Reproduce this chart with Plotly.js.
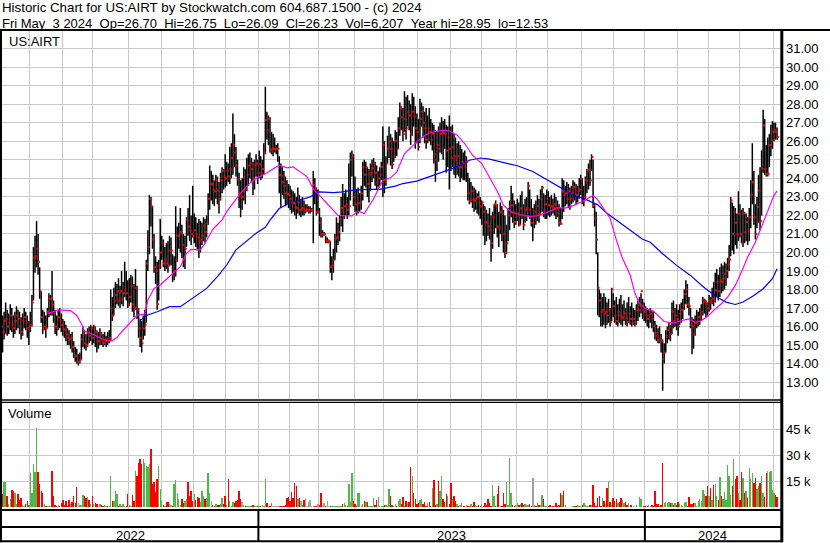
<!DOCTYPE html>
<html><head><meta charset="utf-8">
<script src="https://cdn.plot.ly/plotly-3.0.1.min.js"></script>
<style>html,body{margin:0;padding:0;background:#fff}#chart{width:830px;height:543px}</style>
</head><body><div id="chart"></div>
<script>
const titleLine1 = 'Historic Chart for US:AIRT by Stockwatch.com 604.687.1500 - (c) 2024';
const titleLine2 = 'Fri May  3 2024  Op=26.70  Hi=26.75  Lo=26.09  Cl=26.23  Vol=6,207  Year hi=28.95  lo=12.53';
const symbolLabel = 'US:AIRT';
const volumeLabel = 'Volume';
const lastDate = '2024-05-03';
const holidays = ['2022-05-30','2022-06-20','2022-07-04','2022-09-05','2022-11-24','2022-12-26','2023-01-02','2023-01-16','2023-02-20','2023-04-07','2023-05-29','2023-06-19','2023-07-04','2023-09-04','2023-11-23','2023-12-25','2024-01-01','2024-01-15','2024-02-19','2024-03-29'];
const yearLabels = ['2022','2023','2024'];
const priceTicks = [13,14,15,16,17,18,19,20,21,22,23,24,25,26,27,28,29,30,31];
const volTicks = [15,30,45];
const volTickText = ['15 k','30 k','45 k'];

const hi = [
16.9,16.6,16.8,17.3,16.9,16.7,17.2,17.0,16.6,16.8,
17.1,16.9,16.8,16.5,16.7,17.0,16.8,16.6,16.3,16.8,
17.7,20.3,20.9,21.7,21.0,19.2,17.9,16.9,16.8,16.6,
17.0,17.8,17.7,19.0,17.4,16.9,16.6,16.9,17.0,16.7,
16.4,16.3,16.1,15.9,15.8,15.6,15.7,15.2,14.9,14.8,
14.5,14.6,15.6,16.0,15.8,15.6,15.9,16.0,16.1,16.0,
16.1,16.0,15.8,15.7,15.9,15.7,15.6,15.7,15.5,15.7,
15.8,18.0,17.6,18.1,18.4,18.3,18.6,18.2,19.0,18.4,
19.5,19.0,18.5,18.6,18.8,18.7,18.3,19.1,18.2,17.0,
16.4,16.3,16.6,16.9,19.6,21.2,23.1,23.0,22.5,21.0,
19.8,19.5,19.6,21.8,20.9,20.7,20.3,20.5,20.6,20.9,
20.8,19.9,19.8,22.5,21.4,21.6,22.4,21.5,21.0,20.9,
21.9,22.4,23.1,22.0,23.6,22.1,21.9,21.6,21.8,21.7,
21.6,21.9,21.8,22.0,23.2,24.7,24.4,24.2,23.9,24.2,
24.1,23.8,24.3,24.6,24.5,25.3,24.9,24.8,25.7,25.9,
27.5,26.4,25.7,25.0,24.3,23.9,24.0,24.6,24.5,25.1,
25.3,25.4,25.1,24.9,25.0,25.3,25.0,25.5,25.2,25.0,
25.9,28.95,27.6,27.4,27.3,26.5,26.4,26.2,25.8,25.9,
25.2,24.8,24.6,24.4,24.1,23.9,23.7,23.6,23.4,23.3,
23.2,23.0,23.5,23.1,22.9,23.0,22.8,22.6,22.6,22.5,
22.5,22.4,24.4,24.0,23.5,23.4,22.4,21.9,21.2,21.1,
20.9,20.8,20.7,20.6,19.8,20.2,21.0,21.9,21.6,22.0,
23.0,23.7,23.2,23.4,23.0,24.8,25.4,25.5,25.3,24.1,
23.4,23.5,23.2,23.6,24.9,25.0,24.9,24.6,24.5,24.8,
25.0,25.1,24.9,24.7,24.4,24.6,24.9,26.8,26.0,25.2,
26.3,26.8,26.4,26.2,26.0,26.6,26.5,27.3,28.1,27.9,
27.8,28.7,28.4,28.5,28.2,28.0,28.6,28.4,27.9,27.5,
27.2,28.3,28.1,27.9,27.6,27.8,27.4,27.8,27.2,27.0,
26.9,26.6,26.5,26.8,27.0,27.3,27.1,27.2,26.9,26.8,
27.4,26.8,26.9,26.4,26.2,25.9,26.0,25.8,25.6,25.4,
25.5,25.2,24.3,24.0,23.8,23.6,23.5,23.4,23.2,23.3,
23.0,22.8,22.6,22.5,22.3,22.1,22.4,22.0,22.2,22.6,
22.8,22.6,22.2,22.7,22.5,22.3,22.0,21.5,22.4,22.8,
23.6,23.2,22.8,22.6,22.9,22.7,23.1,23.3,22.6,22.9,
23.0,23.8,23.4,22.9,22.4,22.6,22.8,23.1,22.9,23.4,
23.6,23.2,23.1,23.4,23.3,23.0,23.1,22.9,23.2,23.0,
22.8,22.6,22.4,24.0,23.9,23.6,23.8,23.7,23.5,23.6,
23.9,23.8,23.7,23.6,24.0,24.2,24.0,23.6,24.1,24.5,
24.8,25.0,25.3,25.0,22.6,22.2,20.0,18.0,17.8,17.6,
17.8,17.6,17.3,17.5,17.0,18.1,17.8,17.4,17.6,17.2,
17.5,17.7,17.2,17.4,17.0,17.3,17.6,17.1,17.3,17.0,
16.9,17.2,17.4,17.6,17.8,17.5,17.3,17.1,17.0,16.9,
17.0,16.9,16.8,16.3,16.1,15.9,16.0,15.6,15.3,15.1,
15.8,16.0,16.2,16.1,17.3,17.4,17.0,17.2,16.9,17.2,
17.3,17.5,18.0,18.5,18.3,17.6,17.0,16.5,16.4,16.6,
16.9,16.8,17.0,17.2,17.6,17.5,17.4,17.3,17.7,17.6,
18.1,18.4,18.9,19.1,18.8,19.2,19.4,19.3,19.5,19.4,
19.7,20.4,23.0,22.7,22.5,22.4,22.1,23.3,22.6,22.3,
22.4,22.2,22.1,21.9,22.4,23.9,25.9,24.4,22.6,23.0,
24.2,24.6,25.5,27.7,27.2,25.8,26.2,26.4,26.9,27.1,
27.0,27.0,26.75];

const lo = [
14.4,14.6,15.3,15.6,15.5,15.6,15.8,15.7,15.4,15.6,
15.8,15.9,15.6,15.3,15.5,15.9,15.8,15.4,15.0,15.7,
16.0,17.4,18.9,19.2,18.8,17.5,16.2,15.6,15.8,15.4,
15.9,16.5,16.6,16.6,16.2,15.6,15.5,15.8,15.9,15.7,
15.5,15.4,15.2,15.0,15.0,14.8,14.6,14.3,14.1,14.0,
13.9,14.0,14.2,14.9,14.8,14.7,14.9,15.1,15.2,15.0,
15.1,14.9,14.6,14.8,15.0,15.0,14.9,15.0,14.9,15.0,
15.1,15.2,16.3,16.6,17.0,17.2,17.1,17.0,17.2,17.1,
17.6,17.4,17.0,17.1,17.3,16.8,16.5,16.9,16.4,15.4,
14.9,14.6,15.3,15.5,16.2,19.0,19.9,21.4,20.2,18.9,
18.3,16.9,17.4,19.1,19.6,19.2,19.0,19.1,18.9,19.3,
19.3,18.4,18.5,18.7,19.5,20.2,20.0,19.7,19.2,19.1,
20.3,20.9,20.6,20.4,20.8,20.5,20.3,20.1,19.7,20.0,
20.4,20.6,20.5,20.8,21.5,22.3,22.8,22.6,22.5,22.9,
22.6,22.1,22.8,23.2,23.4,23.5,23.6,23.8,23.7,24.0,
24.2,24.6,24.1,23.6,22.4,21.9,22.3,22.8,22.6,23.3,
23.6,24.0,23.8,23.1,23.4,24.1,23.7,24.0,23.9,24.0,
24.2,25.3,26.1,25.8,25.4,25.3,25.2,25.4,25.3,24.9,
23.2,22.4,23.1,22.9,22.5,22.6,22.4,22.3,22.1,22.2,
22.0,21.8,22.1,22.0,21.9,22.0,22.0,22.1,22.2,22.1,
22.1,22.2,20.5,22.6,22.0,22.1,20.9,20.8,20.8,20.9,
20.5,20.5,20.5,18.9,18.5,18.9,19.6,20.0,20.4,20.6,
21.4,21.1,21.8,22.0,21.8,22.0,22.8,24.1,22.5,22.2,
22.0,22.1,22.2,22.3,22.8,23.6,23.5,23.0,22.7,23.3,
23.8,24.0,23.6,23.4,23.5,23.6,23.9,23.0,23.2,23.6,
24.8,25.1,24.7,24.5,24.9,25.1,25.2,25.6,26.3,26.6,
26.0,26.5,26.1,26.8,26.6,25.8,26.3,26.8,25.6,25.9,
25.5,25.9,26.8,26.2,25.9,25.6,25.9,26.0,25.8,25.5,
24.8,23.8,24.4,24.9,25.4,25.3,25.0,25.6,24.3,24.6,
23.4,24.4,24.6,24.2,24.0,24.2,24.1,23.8,24.0,23.9,
23.9,23.8,22.8,22.6,22.7,22.4,22.2,22.3,22.1,22.0,
21.8,21.5,20.9,20.4,20.6,20.9,20.7,19.5,20.2,21.0,
21.3,20.8,20.3,21.0,20.6,20.0,19.7,19.9,20.6,21.2,
21.9,21.6,21.3,21.5,21.7,21.4,21.5,21.8,21.2,21.6,
21.7,22.0,21.8,21.4,20.6,21.3,21.5,21.7,21.6,22.0,
22.2,21.9,21.8,21.8,22.0,21.9,22.0,22.1,22.0,21.8,
21.9,21.4,21.5,21.8,22.2,22.5,22.6,22.4,22.3,22.6,
22.7,22.8,22.6,22.7,22.9,23.1,22.6,22.5,22.8,23.2,
23.4,23.6,24.4,22.4,21.4,19.9,16.6,16.5,16.0,16.0,
16.1,15.9,16.1,16.2,16.0,16.3,16.5,16.2,16.1,16.0,
16.2,16.1,16.0,16.3,16.1,16.0,16.2,16.1,16.0,16.1,
16.0,16.1,16.3,16.5,16.7,16.4,16.3,16.2,16.0,15.9,
16.2,15.9,15.7,15.3,15.2,15.1,15.1,14.6,12.53,14.0,
14.6,15.1,15.3,15.2,15.6,15.9,16.0,15.8,15.5,16.1,
16.2,16.4,16.9,17.2,17.0,16.6,15.9,14.5,14.8,15.5,
15.9,16.0,16.1,16.3,16.6,16.7,16.5,16.6,16.8,16.9,
17.2,17.1,17.3,17.6,17.4,17.6,17.8,17.9,18.0,18.2,
18.6,19.0,19.8,20.1,19.9,20.4,20.2,20.6,20.8,20.5,
20.3,20.5,20.6,20.4,20.6,21.3,22.6,21.5,20.7,21.3,
21.6,21.2,22.0,24.3,24.2,24.1,24.1,24.6,25.2,25.6,
26.0,26.1,26.09];

const cl = [
16.0,15.7,16.3,16.4,16.0,16.2,16.6,16.1,15.9,16.3,
16.6,16.4,16.0,15.7,16.3,16.5,16.2,15.9,16.0,16.1,
17.3,19.7,19.8,20.2,19.5,17.9,16.5,15.9,16.0,15.9,
16.8,17.5,17.5,17.2,16.7,16.0,15.9,16.5,16.3,16.1,
15.9,15.8,15.6,15.4,15.3,15.4,14.9,14.5,14.4,14.1,
14.1,14.2,15.3,15.6,15.1,15.0,15.7,15.5,15.9,15.4,
15.9,15.7,15.2,15.2,15.6,15.3,15.1,15.2,15.3,15.2,
15.4,17.0,16.6,17.4,17.7,17.9,17.4,17.9,17.5,17.8,
18.0,17.8,17.2,17.6,18.2,17.2,17.0,18.1,16.9,15.9,
15.4,15.1,15.9,16.1,19.4,20.3,22.9,22.5,20.7,19.2,
19.0,17.2,19.3,20.0,20.5,19.4,19.6,19.4,19.3,20.1,
20.1,18.8,19.0,19.6,20.9,21.0,21.1,20.4,19.6,20.2,
21.75,21.4,21.2,21.0,20.9,21.2,21.0,20.8,20.6,20.7,
20.9,21.45,21.1,21.6,22.9,23.7,23.7,23.4,23.3,23.9,
23.35,22.9,23.9,24.4,24.1,24.0,24.4,24.1,24.5,25.1,
25.8,25.4,24.7,23.95,23.2,23.0,23.0,24.05,23.4,24.2,
24.7,24.8,24.5,24.0,24.7,24.8,24.3,24.75,24.3,24.5,
25.4,27.15,26.6,27.2,25.5,25.6,25.6,25.6,25.6,25.6,
24.2,24.15,23.8,23.6,23.2,23.15,23.1,22.9,22.7,22.65,
22.45,22.4,22.7,22.3,22.3,22.4,22.3,22.3,22.3,22.3,
22.3,22.3,23.65,23.4,22.2,22.2,21.6,21.0,21.0,21.0,
20.6,20.6,20.6,19.2,19.3,19.6,20.75,20.8,21.1,21.8,
22.4,22.2,22.5,22.6,22.3,22.5,25.0,25.2,23.0,22.6,
22.2,22.65,22.7,23.2,24.6,24.2,24.6,23.7,24.2,24.3,
24.55,24.8,24.3,23.8,24.0,24.2,24.6,25.8,23.9,24.8,
25.6,26.0,25.6,24.75,25.2,26.0,25.6,26.7,27.8,27.3,
26.4,27.2,26.7,27.6,27.4,26.4,27.6,27.35,26.7,26.5,
25.7,27.2,27.6,27.0,26.7,26.1,26.7,26.5,26.1,26.4,
25.3,25.0,25.8,25.6,26.4,26.5,26.45,26.4,25.5,26.2,
25.6,25.1,25.7,25.2,25.0,25.2,24.6,24.6,24.9,24.8,
24.6,24.9,23.2,22.8,23.3,22.85,22.8,22.9,23.0,22.7,
22.5,22.7,22.2,21.65,21.6,21.4,21.2,20.5,21.9,22.6,
22.5,21.4,21.3,22.2,22.1,21.0,20.0,20.5,22.0,22.5,
22.55,22.2,21.65,21.9,22.1,21.5,22.4,22.0,21.5,22.3,
22.4,23.6,22.3,21.6,21.6,22.2,22.0,22.5,22.1,22.9,
23.5,22.3,22.6,22.9,22.55,22.5,22.5,22.4,22.6,22.4,
22.1,21.6,21.55,23.3,23.1,23.2,22.9,23.3,22.9,23.2,
23.55,23.5,23.1,23.3,23.4,23.95,22.75,23.0,23.9,24.45,
24.45,23.9,25.15,22.55,21.85,20.7,18.1,17.4,16.8,16.9,
16.7,16.8,16.6,16.9,16.25,18.0,17.1,16.6,16.3,16.8,
16.6,16.45,16.5,16.7,16.45,16.25,16.7,16.4,16.2,16.4,
16.25,16.9,16.9,17.15,17.9,16.9,16.8,16.6,16.4,16.6,
16.7,16.4,16.0,15.65,15.5,15.25,15.35,15.2,14.25,14.6,
15.5,15.8,15.95,15.6,16.8,16.3,16.6,16.4,16.0,16.7,
16.9,17.15,17.75,18.0,17.2,17.1,16.1,16.0,15.6,16.2,
16.25,16.5,16.6,16.8,17.3,17.4,17.2,17.0,17.4,17.3,
17.5,17.4,17.95,18.4,17.9,18.5,18.4,18.6,18.85,19.0,
19.35,19.6,22.8,21.0,22.2,21.6,21.0,22.1,21.0,20.5,
22.1,21.1,21.65,21.2,21.9,23.1,23.8,21.9,21.0,22.45,
23.35,21.7,24.5,26.85,24.5,24.25,24.25,25.8,26.05,26.5,
26.6,26.5,26.23];

const volK = [
3.6,7.5,14.6,14.4,6.5,1.7,4.5,9.8,9.6,8.4,
2.0,7.5,4.0,5.6,1.5,1.0,2.0,3.6,1.5,19.6,
8.4,24.8,20.5,45.5,20.4,13.2,9.4,8.4,1.7,0.8,
0.6,0.5,1.0,20.9,6.5,1.5,0.8,1.5,0.6,2.7,
4.2,1.5,3.6,1.0,4.0,2.0,3.0,6.5,2.5,11.9,
2.7,1.5,1.2,7.1,6.5,5.6,6.0,4.2,2.0,6.5,
2.0,2.7,1.7,0.8,2.0,1.5,0.6,1.2,0.8,1.0,
1.0,18.0,3.6,3.6,9.4,7.5,1.0,1.7,1.0,1.7,
0.6,1.0,7.5,1.5,0.8,6.9,3.6,20.9,18.0,25.7,
27.6,24.8,27.6,25.5,24.0,23.0,24.8,33.8,13.2,14.5,
9.0,16.4,23.8,10.3,3.6,1.5,1.0,3.3,3.3,2.0,
1.5,1.0,13.2,15.5,8.0,5.0,1.5,4.5,2.5,3.6,
4.5,14.4,6.5,9.4,3.5,7.5,4.0,6.0,5.6,3.0,
9.2,6.5,4.5,5.6,19.6,8.4,3.6,1.5,1.0,2.0,
1.5,1.5,2.0,5.6,1.7,6.5,1.5,16.3,3.6,1.0,
3.3,2.5,3.6,4.0,9.4,4.5,3.0,1.5,1.0,1.0,
1.0,0.8,1.0,1.5,0.8,0.6,1.0,0.6,0.8,1.5,
1.0,16.5,2.5,1.0,0.5,2.7,0.8,1.0,0.6,0.5,
0.8,0.5,0.8,0.6,1.5,5.6,6.0,3.6,8.8,5.6,
14.0,12.5,4.5,5.6,3.6,1.5,4.0,5.0,1.0,3.0,
4.0,1.0,0.6,1.0,0.8,2.0,1.5,8.4,1.5,2.5,
0.5,3.6,1.0,0.6,0.5,0.6,0.5,0.8,0.5,1.0,
1.0,2.0,2.5,1.5,0.8,13.2,3.0,19.6,3.6,2.0,
0.6,8.4,8.0,1.0,2.0,3.6,3.3,3.0,1.0,1.0,
1.0,5.2,1.5,4.0,5.8,1.0,0.8,1.0,1.5,1.5,
0.8,10.5,6.5,1.5,1.0,2.0,1.0,3.6,4.5,2.0,
6.0,1.0,3.6,2.5,3.3,23.4,18.0,8.4,4.6,1.7,
2.5,4.0,4.6,2.0,3.0,1.0,2.7,3.0,1.0,11.3,
15.7,1.5,2.0,15.2,9.4,18.0,4.6,3.0,7.9,6.5,
2.0,13.8,4.6,6.5,3.5,2.0,0.8,1.5,2.5,1.0,
0.5,1.5,0.5,1.0,2.0,0.5,3.0,1.5,0.5,1.5,
0.5,2.0,0.5,2.5,1.5,5.0,2.7,0.8,12.7,6.5,
0.8,7.5,12.3,0.8,1.0,8.4,2.0,14.6,1.5,28.6,
8.4,1.5,0.8,1.5,2.5,1.5,2.0,2.3,1.5,2.0,
1.5,1.5,2.0,0.8,16.9,1.5,0.8,2.2,1.5,1.5,
7.1,4.6,0.8,0.8,1.0,1.5,0.8,0.8,0.5,2.3,
1.0,1.5,8.0,7.3,9.2,1.5,0.3,0.3,0.3,0.3,
0.5,0.8,1.0,1.5,1.0,0.8,1.5,2.3,1.5,1.0,
1.0,1.2,1.5,12.7,2.7,1.0,5.6,6.5,1.0,5.6,
3.5,2.0,11.3,15.0,3.0,1.5,5.6,3.6,4.6,2.5,
3.0,5.6,4.0,2.5,3.0,1.2,2.5,1.5,1.5,1.0,
0.3,1.5,0.3,5.9,4.6,0.3,0.8,0.8,0.8,1.2,
0.8,1.5,0.8,9.2,1.7,2.0,1.0,1.5,25.3,2.7,
3.0,2.7,3.0,2.7,2.5,1.5,2.7,1.5,3.0,1.7,
1.5,0.8,2.7,3.0,0.8,6.1,1.7,1.7,2.5,2.7,
0.8,3.6,4.6,3.6,9.9,7.5,6.5,12.2,6.5,11.3,
4.0,12.7,13.2,6.5,4.0,17.6,6.5,5.0,8.6,4.2,
24.2,18.0,6.9,12.3,28.0,16.1,18.0,8.4,4.2,20.4,
17.1,8.4,9.4,5.6,22.8,16.1,19.6,14.2,17.1,10.4,
12.3,13.8,18.0,8.4,6.0,20.0,20.9,20.4,20.9,10.0,
8.0,6.9,6.2];

// moving averages (bar number, value)
const maShortIdx = [30,37,45,49,52,54,59,64,68,72,75,79,82,88,93,95,99,103,107,111,116,120,123,129,132,137,143,146,150,155,161,165,172,180,185,189,193,198,202,206,212,218,223,227,231,235,241,247,252,256,261,267,272,277,286,290,295,300,305,311,316,321,325,330,336,342,347,352,357,360,365,370,376,380,383,386,391,394,398,402,407,410,413,417,422,424,429,435,440,445,449,453,457,462,466,470,475,479,483,488,492,496,500,502];
const maShortVal = [16.68,16.9,16.86,16.6,16.15,15.75,15.6,15.4,15.24,15.24,15.4,15.8,16.05,16.6,16.68,17.43,18.06,18.24,18.55,18.87,19.23,19.95,20.17,20.14,20.5,21.25,21.76,22.2,22.66,23.2,23.74,24.0,24.3,24.71,24.57,24.62,24.39,24.08,23.45,23.09,22.55,22.0,21.97,21.97,22.23,22.1,22.9,23.9,24.03,24.35,25.34,25.8,26.19,26.46,26.6,26.57,26.33,25.88,25.25,24.8,24.08,23.3,22.55,22.19,22.03,21.94,21.99,22.12,22.3,22.42,22.39,22.53,22.75,22.93,23.07,22.84,22.21,21.85,20.68,19.68,18.78,17.79,17.25,16.95,16.84,16.68,16.27,16.18,16.32,16.41,16.23,16.32,16.54,16.95,17.23,17.59,18.22,18.94,19.75,20.56,21.37,22.27,23.08,23.32];
const maLongIdx = [90,94,101,109,116,124,133,140,146,152,159,165,171,174,180,185,193,200,206,215,221,228,237,245,255,260,269,277,286,295,303,310,316,325,334,344,353,362,370,379,386,392,398,405,409,415,420,428,437,446,454,463,469,475,480,487,493,499,502];
const maLongVal = [16.32,16.6,16.8,17.07,17.07,17.52,18.06,18.69,19.32,20.14,20.62,21.04,21.36,21.74,22.37,22.6,22.82,23.0,23.27,23.23,23.27,23.36,23.41,23.41,23.58,23.72,23.85,24.08,24.35,24.62,24.98,25.1,25.04,24.86,24.68,24.37,23.92,23.47,23.11,22.84,22.57,22.12,21.76,21.34,21.09,20.71,20.55,19.93,19.3,18.76,18.16,17.59,17.32,17.19,17.32,17.68,18.04,18.58,19.12];

const N = cl.length;
if (hi.length !== N || lo.length !== N || volK.length !== N) {
  throw new Error('length mismatch hi=' + hi.length + ' lo=' + lo.length + ' cl=' + N + ' vol=' + volK.length);
}
if (maShortIdx.length !== maShortVal.length || maLongIdx.length !== maLongVal.length) {
  throw new Error('ma mismatch ' + maShortIdx.length + '/' + maShortVal.length + ' ' + maLongIdx.length + '/' + maLongVal.length);
}

// trading calendar (weekdays minus holidays), ending on lastDate
const hol = new Set(holidays);
const dates = [];
const dd = new Date(lastDate + 'T12:00:00Z');
while (dates.length < N) {
  const wd = dd.getUTCDay();
  const s = dd.toISOString().slice(0, 10);
  if (wd !== 0 && wd !== 6 && !hol.has(s)) dates.unshift(s);
  dd.setUTCDate(dd.getUTCDate() - 1);
}
const idx = dates.map((_, i) => i);
const monthTicks = [], yearBreaks = [];
for (let i = 1; i < N; i++) {
  if (dates[i].slice(0, 7) !== dates[i - 1].slice(0, 7)) monthTicks.push(i - 0.5);
  if (dates[i].slice(0, 4) !== dates[i - 1].slice(0, 4)) yearBreaks.push(i - 0.5);
}

// geometry
const W = 830, H = 543, ML = 2, MR = 49, MT = 31, MB = 2;
const PW = W - ML - MR, PH = H - MT - MB;
const px = v => (v - ML) / PW;
const py = v => (H - MB - v) / PH;
const xr = [0.647, 504.55];

const FONT = 'Liberation Sans, Arial, sans-serif';

// traces
const hlX = [], hlY = [];
for (let i = 0; i < N; i++) { hlX.push(i, i, null); hlY.push(lo[i], hi[i], null); }
const closeTickX = idx.map(i => i + 0.55);
const volColor = cl.map((c, i) => {
  if (i === 0) return '#50b848';
  if (c > cl[i - 1]) return '#50b848';
  if (c < cl[i - 1]) return '#ff0000';
  return '#a0a0a0';
});

const traces = [
  {type: 'scatter', mode: 'lines', x: hlX, y: hlY, xaxis: 'x', yaxis: 'y',
   line: {color: '#000000', width: 1.5}, hoverinfo: 'skip', connectgaps: false},
  {type: 'scatter', mode: 'lines', x: maLongIdx, y: maLongVal, xaxis: 'x', yaxis: 'y',
   line: {color: '#0000ff', width: 1.2}, hoverinfo: 'skip'},
  {type: 'scatter', mode: 'lines', x: maShortIdx, y: maShortVal, xaxis: 'x', yaxis: 'y',
   line: {color: '#ff00ff', width: 1.2}, hoverinfo: 'skip'},
  {type: 'scatter', mode: 'markers', x: closeTickX, y: cl, xaxis: 'x', yaxis: 'y',
   marker: {symbol: 'square', size: 2, color: '#ff0000', line: {width: 0}}, hoverinfo: 'skip'},
  {type: 'bar', x: idx, y: volK, xaxis: 'x2', yaxis: 'y2', width: 0.9,
   marker: {color: volColor, line: {width: 0}}, hoverinfo: 'skip'}
];

// year label positions (midpoints of visible year segments)
const edges = [xr[0], ...yearBreaks, xr[1]];
const yearAnn = yearLabels.map((t, k) => ({
  text: t, xref: 'x', yref: 'paper', x: (edges[k] + edges[k + 1]) / 2, y: py(535.3),
  xanchor: 'center', yanchor: 'middle', showarrow: false, font: {family: FONT, size: 13, color: '#000'}
}));

const nb = s => s.replace(/ /g, '\u00a0');
const annotations = [
  {text: nb(titleLine1), xref: 'paper', yref: 'paper', x: px(0), y: py(8), xanchor: 'left', yanchor: 'middle',
   showarrow: false, font: {family: FONT, size: 13.3, color: '#000'}},
  {text: nb(titleLine2), xref: 'paper', yref: 'paper', x: px(0), y: py(23.5), xanchor: 'left', yanchor: 'middle',
   showarrow: false, font: {family: FONT, size: 13, color: '#000'}},
  {text: symbolLabel, xref: 'paper', yref: 'paper', x: px(7), y: py(41.8), xanchor: 'left', yanchor: 'middle',
   showarrow: false, font: {family: FONT, size: 13, color: '#000'}},
  {text: volumeLabel, xref: 'paper', yref: 'paper', x: px(6), y: py(413), xanchor: 'left', yanchor: 'middle',
   showarrow: false, font: {family: FONT, size: 13, color: '#000'}},
  ...yearAnn
];

const hline = (y, w, x0 = 0, x1 = 782) => ({type: 'line', xref: 'paper', yref: 'paper',
  x0: px(x0), x1: px(x1), y0: py(y), y1: py(y), line: {color: '#000', width: w}});
const shapes = [
  hline(30, 2, 0, 830),
  hline(400, 1.3), hline(402.4, 1.3),
  hline(510, 2), hline(527, 2), hline(541.3, 2),
  {type: 'line', xref: 'paper', yref: 'paper', x0: px(1), x1: px(1), y0: py(30), y1: py(542.3), line: {color: '#000', width: 2}},
  {type: 'line', xref: 'paper', yref: 'paper', x0: px(781.8), x1: px(781.8), y0: py(30), y1: py(542.3), line: {color: '#000', width: 3}},
  ...yearBreaks.map(b => ({type: 'line', xref: 'x', yref: 'paper', x0: b, x1: b, y0: py(510), y1: py(541.3),
    line: {color: '#000', width: 2}}))
];

const gridC = '#c8c8c8';
const layout = {
  width: W, height: H,
  margin: {l: ML, r: MR, t: MT, b: MB, pad: 0},
  paper_bgcolor: '#ffffff', plot_bgcolor: '#ffffff',
  showlegend: false, bargap: 0,
  font: {family: FONT, size: 13, color: '#000'},
  xaxis: {domain: [0, 1], range: xr, anchor: 'y', tickvals: monthTicks, showticklabels: false, ticks: '',
          showgrid: true, gridcolor: gridC, gridwidth: 1, zeroline: false, showline: false, fixedrange: true},
  xaxis2: {domain: [0, 1], range: xr, anchor: 'y2', matches: 'x', tickvals: monthTicks, showticklabels: false, ticks: '',
           showgrid: true, gridcolor: gridC, gridwidth: 1, zeroline: false, showline: false, fixedrange: true},
  yaxis: {domain: [py(399.3), 1], range: [12.07, 31.957], anchor: 'x', side: 'right',
          tickvals: priceTicks, ticktext: priceTicks.map(v => v.toFixed(2)), ticks: '', ticklabelstandoff: 4,
          showgrid: true, gridcolor: gridC, gridwidth: 1, zeroline: false, showline: false, fixedrange: true,
          tickfont: {family: FONT, size: 13, color: '#000'}},
  yaxis2: {domain: [py(510), py(402.8)], range: [-1.56, 60.3], anchor: 'x2', side: 'right',
           tickvals: volTicks, ticktext: volTickText, ticks: '', ticklabelstandoff: 4,
           showgrid: true, gridcolor: gridC, gridwidth: 1, zeroline: false, showline: false, fixedrange: true,
           tickfont: {family: FONT, size: 13, color: '#000'}},
  annotations: annotations,
  shapes: shapes
};

Plotly.newPlot('chart', traces, layout, {staticPlot: true, displayModeBar: false});
</script>
</body></html>
